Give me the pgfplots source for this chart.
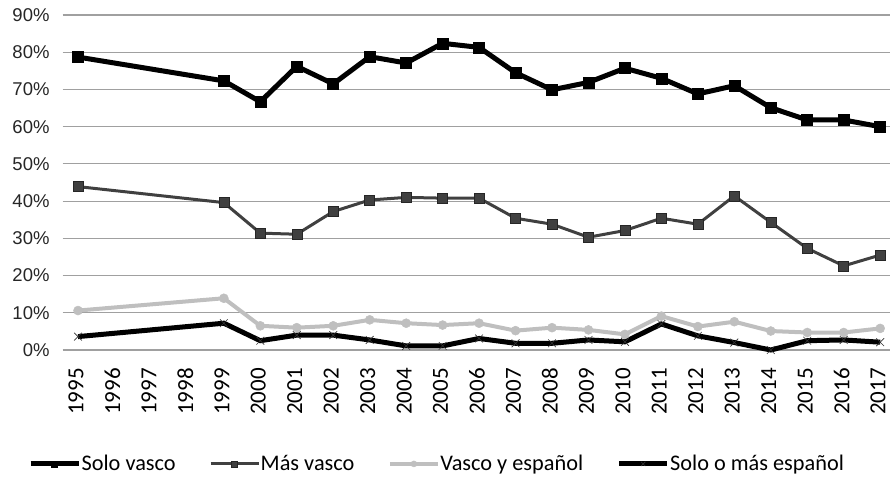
\documentclass[border=0pt]{standalone}
\usepackage{pgfplots}
\pgfplotsset{compat=1.18}
\usepackage{fontspec}
\setmainfont{Carlito}
\newfontfamily\arialf{Liberation Sans}
\definecolor{dgray}{HTML}{404040}
\definecolor{lgray}{HTML}{BFBFBF}
\definecolor{gridc}{HTML}{A0A0A0}
\begin{document}
\begin{tikzpicture}
\useasboundingbox (-62.7pt,-129pt) rectangle (827.3pt,350pt);
\begin{axis}[
  at={(0,0)}, anchor=south west,
  scale only axis, width=827.3pt, height=335pt,
  xmin=1994.58, xmax=2017.27, ymin=0, ymax=90,
  ytick={0,10,...,90},
  xtick={1995,...,2017},
  /pgf/number format/assume math mode=true,
  /pgf/number format/1000 sep={},
  yticklabel={\pgfmathprintnumber{\tick}\%},
  yticklabel style={font=\arialf\fontsize{18.5}{19}\selectfont, anchor=east, inner sep=0pt, xshift=-13pt, text=black!85},
  xticklabel style={font=\fontsize{23}{23}\selectfont, rotate=90, anchor=east, inner sep=0pt, yshift=2pt},
  xticklabel shift=18pt,
  ymajorgrids, grid style={gridc, line width=1.1pt},
  axis line style={draw=none}, major tick length=0pt,
  clip=false,
  legend columns=4,
  legend style={draw=none, fill=none, at={(axis description cs:-0.042,-0.340)}, anchor=west, inner sep=0pt,
    font=\fontsize{22.3}{22.3}\selectfont, nodes={inner sep=0.5pt},
    /tikz/every even column/.append style={column sep=33pt}},
  legend image code/.code={\draw[mark repeat=2, mark phase=2, #1, mark size=3pt] plot coordinates {(0pt,0pt) (24pt,0pt) (48pt,0pt)};},
]
\addplot[black, line width=5pt, mark=square*, mark size=5.5pt, mark options={solid, line width=0.5pt}] coordinates {
(1995,78.7) (1999,72.3) (2000,66.7) (2001,76.2) (2002,71.5) (2003,78.8) (2004,77.1) (2005,82.4)
(2006,81.3) (2007,74.5) (2008,69.9) (2009,71.9) (2010,75.7) (2011,73.0) (2012,68.8) (2013,71.0)
(2014,65.1) (2015,61.8) (2016,61.8) (2017,60.0)};
\addlegendentry{Solo vasco}
\addplot[dgray, line width=3pt, mark=square*, mark size=5pt, mark options={solid, line width=0.5pt, draw=black!85, fill=dgray}] coordinates {
(1995,43.9) (1999,39.6) (2000,31.4) (2001,31.1) (2002,37.2) (2003,40.3) (2004,41.0) (2005,40.8)
(2006,40.8) (2007,35.4) (2008,33.8) (2009,30.3) (2010,32.1) (2011,35.4) (2012,33.8) (2013,41.4)
(2014,34.3) (2015,27.3) (2016,22.6) (2017,25.5)};
\addlegendentry{Más vasco}
\addplot[lgray, line width=4pt, mark=*, mark size=4.5pt, mark options={solid, line width=0.5pt}] coordinates {
(1995,10.6) (1999,13.9) (2000,6.5) (2001,6.0) (2002,6.5) (2003,8.1) (2004,7.2) (2005,6.7)
(2006,7.2) (2007,5.2) (2008,6.0) (2009,5.4) (2010,4.2) (2011,9.1) (2012,6.3) (2013,7.6)
(2014,5.1) (2015,4.7) (2016,4.7) (2017,5.8)};
\addlegendentry{Vasco y español}
\addplot[black, line width=5pt, mark=x, mark size=5.5pt, mark options={solid, line width=0.6pt, draw=black!80}] coordinates {
(1995,3.6) (1999,7.2) (2000,2.5) (2001,4.0) (2002,4.0) (2003,2.7) (2004,1.1) (2005,1.1)
(2006,3.1) (2007,1.8) (2008,1.8) (2009,2.7) (2010,2.2) (2011,7.0) (2012,3.8) (2013,2.0)
(2014,0.0) (2015,2.5) (2016,2.7) (2017,2.1)};
\addlegendentry{Solo o más español}
\end{axis}
\end{tikzpicture}
\end{document}
